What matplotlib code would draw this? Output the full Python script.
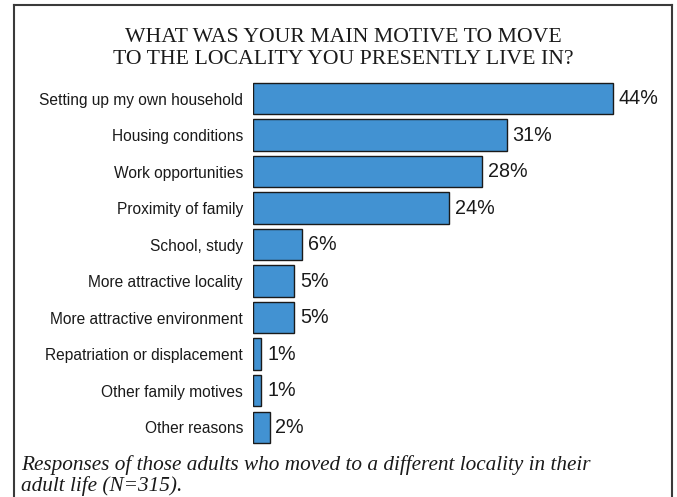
import matplotlib
matplotlib.use("Agg")
import matplotlib.pyplot as plt
from matplotlib.lines import Line2D

categories = ["Setting up my own household", "Housing conditions", "Work opportunities",
              "Proximity of family", "School, study", "More attractive locality",
              "More attractive environment", "Repatriation or displacement",
              "Other family motives", "Other reasons"]
values = [44, 31, 28, 24, 6, 5, 5, 1, 1, 2]
title = "WHAT WAS YOUR MAIN MOTIVE TO MOVE\nTO THE LOCALITY YOU PRESENTLY LIVE IN?"
note = "Responses of those adults who moved to a different locality in their\nadult life (N=315)."

W, H = 677, 497
fig = plt.figure(figsize=(W / 100, H / 100), dpi=100)

def px(x0, y0, x1, y1):
    return [x0 / W, 1 - y1 / H, (x1 - x0) / W, (y1 - y0) / H]

ax = fig.add_axes(px(253.3, 80.3, 661.7, 445.5))
pos = list(range(len(categories)))
ax.barh(pos, values, height=0.86, color="#4292d2", edgecolor="#1a1a1a", linewidth=1.0)
ax.set_xlim(0, 50)
ax.set_ylim(len(categories) - 0.5, -0.5)
for s in ax.spines.values():
    s.set_visible(False)
ax.set_xticks([])
ax.set_yticks(pos)
ax.set_yticklabels(categories, family="Liberation Sans", fontsize=11.2, color="#1a1a1a")
ax.tick_params(axis="y", length=0, pad=7.5)
for p, v in zip(pos, values):
    ax.text(v + 0.7, p, f"{v}%", va="center", ha="left", family="Liberation Sans",
            fontsize=14.2, color="#1a1a1a")

fig.text(343 / W, 1 - 48.5 / H, title, ha="center", va="center", family="Liberation Serif",
         fontsize=15.7, linespacing=1.28, color="#1a1a1a")
fig.text(21 / W, 1 - 475.5 / H, note, ha="left", va="center", family="Liberation Serif",
         style="italic", fontsize=15.3, linespacing=1.07, color="#1a1a1a")

lw = 1.5
c = "#3a3a3a"
fig.add_artist(Line2D([14 / W, 14 / W], [0, 1 - 5 / H], transform=fig.transFigure, color=c, lw=lw))
fig.add_artist(Line2D([672 / W, 672 / W], [0, 1 - 5 / H], transform=fig.transFigure, color=c, lw=lw))
fig.add_artist(Line2D([14 / W, 672 / W], [1 - 5 / H, 1 - 5 / H], transform=fig.transFigure, color=c, lw=lw))

fig.savefig("out.png", dpi=100)
